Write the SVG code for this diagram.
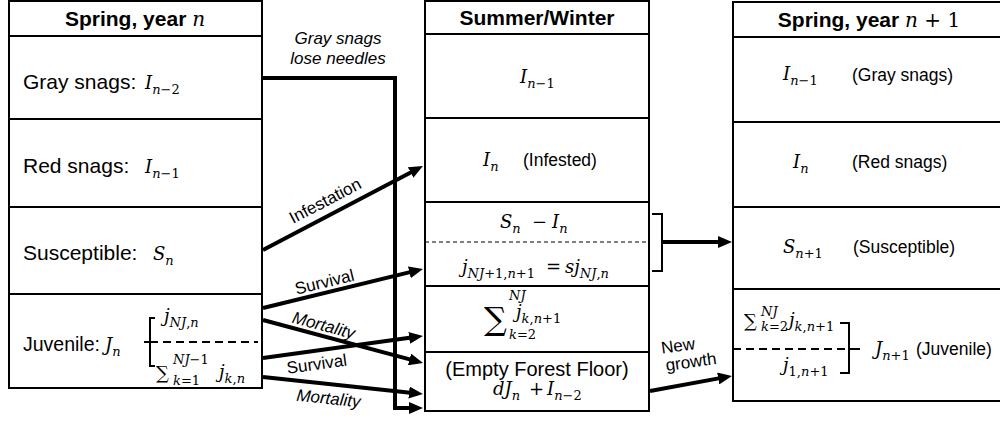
<svg xmlns="http://www.w3.org/2000/svg" width="1000" height="423" viewBox="0 0 1000 423">
<style>
.box{fill:#fff;stroke:#000;stroke-width:2}
.div{stroke:#000;stroke-width:2;fill:none}
.dash{stroke:#000;stroke-width:2;stroke-dasharray:8 5;fill:none}
.thin{stroke:#000;stroke-width:1;stroke-dasharray:4 3;fill:none}
.brk{stroke:#000;stroke-width:2;fill:none}
.arr{stroke:#000;stroke-width:4;fill:none;marker-end:url(#ah)}
.sans{font-family:"Liberation Sans",Arial,sans-serif;fill:#000}
.hd{font-size:21px;font-weight:bold}
.lab{font-size:21px}
.par{font-size:17.5px}
.cl{font-size:17px}
.it{font-style:italic}
.m{font-family:"DejaVu Serif","Liberation Serif",serif;font-size:18px;fill:#000;font-weight:normal}
.i{font-style:italic}
.s{font-size:13px}
</style>
<defs>
<marker id="ah" markerWidth="14" markerHeight="12" refX="6" refY="6" orient="auto" markerUnits="userSpaceOnUse"><path d="M0,0 L14,6 L0,12 z" fill="#000"/></marker>
</defs>

<g id="col-spring-n">
<rect class="box" x="9" y="1" width="253" height="387"/>
<path class="div" d="M9,36 H262 M9,119 H262 M9,207 H262 M9,294 H262"/>
<g id="hdr-spring-n"><text class="sans hd" x="135" y="26" text-anchor="middle">Spring, year <tspan class="m i" style="font-size:20px">n</tspan></text></g>
<g id="gray-snags-n"><text class="sans lab" x="23" y="89">Gray snags:<tspan class="m i" x="145">I</tspan><tspan class="m s i" y="94">n</tspan><tspan class="m s">−2</tspan></text></g>
<g id="red-snags-n"><text class="sans lab" x="23" y="173">Red snags:<tspan class="m i" x="145">I</tspan><tspan class="m s i" y="178">n</tspan><tspan class="m s">−1</tspan></text></g>
<g id="susceptible-n"><text class="sans lab" x="23" y="260">Susceptible:<tspan class="m i" x="153">S</tspan><tspan class="m s i" y="265">n</tspan></text></g>
<g id="juvenile-n">
<text class="sans" style="font-size:19.5px" x="23" y="351">Juvenile:<tspan class="m i" x="105">J</tspan><tspan class="m s i" y="356">n</tspan></text>
<path class="brk" d="M155,318 H150 V366 H155 M144,342 H150"/>
<path class="dash" d="M150,342 H258"/>
<text class="m" x="164" y="322"><tspan class="i">j</tspan><tspan class="s i" y="327">NJ</tspan><tspan class="s">,</tspan><tspan class="s i">n</tspan></text>
<text class="m" x="156" y="379">∑<tspan class="s i" x="173" y="364">NJ</tspan><tspan class="s">−1</tspan><tspan class="s i" x="173" y="385">k</tspan><tspan class="s">=1</tspan><tspan class="i" x="219" y="378">j</tspan><tspan class="s i" y="383">k</tspan><tspan class="s">,</tspan><tspan class="s i">n</tspan></text>
</g>
</g>

<g id="col-summer-winter">
<rect class="box" x="425" y="1" width="224" height="410"/>
<path class="div" d="M425,34 H649 M425,118 H649 M425,202 H649 M425,286 H649 M425,352 H649"/>
<path class="thin" d="M425,242 H649"/>
<g id="hdr-summer"><text class="sans hd" x="537" y="25" text-anchor="middle">Summer/Winter</text></g>
<g id="sw-gray"><text class="m" x="520" y="83"><tspan class="i">I</tspan><tspan class="s i" y="88">n</tspan><tspan class="s">−1</tspan></text></g>
<g id="sw-infested"><text class="m" x="483" y="166"><tspan class="i">I</tspan><tspan class="s i" y="171">n</tspan></text><text class="sans par" x="523" y="166">(Infested)</text></g>
<g id="sw-susceptible">
<text class="m" x="500" y="228"><tspan class="i">S</tspan><tspan class="s i" y="233">n</tspan><tspan x="532" y="228">−</tspan><tspan class="i" x="552">I</tspan><tspan class="s i" y="233">n</tspan></text>
<text class="m" x="462" y="273"><tspan class="i">j</tspan><tspan class="s i" y="278">NJ</tspan><tspan class="s">+1,</tspan><tspan class="s i">n</tspan><tspan class="s">+1</tspan><tspan x="546" y="273">=</tspan><tspan class="i" x="565">sj</tspan><tspan class="s i" y="278">NJ</tspan><tspan class="s">,</tspan><tspan class="s i">n</tspan></text>
</g>
<g id="sw-juvenile"><text class="m" x="484" y="330" style="font-size:32px">∑</text><text class="m" x="509" y="300"><tspan class="s i">NJ</tspan><tspan class="s i" x="509" y="339">k</tspan><tspan class="s">=2</tspan><tspan class="i" x="516" y="318">j</tspan><tspan class="s i" y="323">k</tspan><tspan class="s">,</tspan><tspan class="s i">n</tspan><tspan class="s">+1</tspan></text></g>
<g id="sw-empty"><text class="sans" style="font-size:20px" x="537" y="376" text-anchor="middle">(Empty Forest Floor)</text>
<text class="m" x="493" y="395"><tspan class="i">dJ</tspan><tspan class="s i" y="400">n</tspan><tspan x="529" y="395">+</tspan><tspan class="i" x="547">I</tspan><tspan class="s i" y="400">n</tspan><tspan class="s">−2</tspan></text></g>
</g>

<g id="col-spring-n1">
<rect class="box" x="733" y="2" width="269" height="399"/>
<path class="div" d="M733,37 H1002 M733,122 H1002 M733,207 H1002 M733,289 H1002"/>
<g id="hdr-spring-n1"><text class="sans hd" x="869" y="27" text-anchor="middle">Spring, year <tspan class="m i" style="font-size:20px">n</tspan><tspan class="m" style="font-size:20px"> + 1</tspan></text></g>
<g id="n1-gray"><text class="m" x="783" y="80"><tspan class="i">I</tspan><tspan class="s i" y="85">n</tspan><tspan class="s">−1</tspan></text><text class="sans par" x="852" y="81">(Gray snags)</text></g>
<g id="n1-red"><text class="m" x="793" y="168"><tspan class="i">I</tspan><tspan class="s i" y="173">n</tspan></text><text class="sans par" x="852" y="168">(Red snags)</text></g>
<g id="n1-susceptible"><text class="m" x="783" y="253"><tspan class="i">S</tspan><tspan class="s i" y="258">n</tspan><tspan class="s">+1</tspan></text><text class="sans par" x="853" y="253">(Susceptible)</text></g>
<g id="n1-juvenile">
<text class="m" x="744" y="327">∑<tspan class="s i" x="761" y="316">NJ</tspan><tspan class="s i" x="761" y="331">k</tspan><tspan class="s">=2</tspan><tspan class="i" x="789" y="326">j</tspan><tspan class="s i" y="331">k</tspan><tspan class="s">,</tspan><tspan class="s i">n</tspan><tspan class="s">+1</tspan></text>
<path class="dash" d="M733,349 H849"/>
<path class="brk" d="M840,323 H849 V373 H840 M849,349 H860"/>
<text class="m" x="783" y="371"><tspan class="i">j</tspan><tspan class="s" y="376">1,</tspan><tspan class="s i">n</tspan><tspan class="s">+1</tspan></text>
<text class="m" x="875" y="355"><tspan class="i">J</tspan><tspan class="s i" y="360">n</tspan><tspan class="s">+1</tspan></text>
<text class="sans par" x="916" y="355">(Juvenile)</text>
</g>
</g>

<g id="connectors">
<path class="arr" d="M262,78 H395 V408 H415"/>
<path class="arr" d="M263,250 L415.9,169.7"/>
<path class="arr" d="M263,308 L415.2,270.9"/>
<path class="arr" d="M263,320 L415.3,360.9"/>
<path class="arr" d="M263,358 L415.1,337.1"/>
<path class="arr" d="M263,377 L415,393.2"/>
<path class="brk" d="M652,214 H662 V271 H652"/>
<path class="arr" d="M662,242 H724"/>
<path class="arr" d="M650,391 L724.1,377.4"/>
<text class="sans cl it" x="338" y="44" text-anchor="middle">Gray snags</text>
<text class="sans cl it" x="338" y="64" text-anchor="middle">lose needles</text>
<text class="sans cl" text-anchor="middle" y="-9" transform="translate(332,213.8) rotate(-27.7)">Infestation</text>
<text class="sans cl" text-anchor="middle" y="-5" transform="translate(327,292.4) rotate(-13.7)">Survival</text>
<text class="sans cl it" text-anchor="middle" y="-5" transform="translate(321,335.6) rotate(15)">Mortality</text>
<text class="sans cl" text-anchor="middle" y="19" transform="translate(315,350.8) rotate(-7.8)">Survival</text>
<text class="sans cl it" text-anchor="middle" y="20" transform="translate(330,384.1) rotate(6)">Mortality</text>
<text class="sans cl" text-anchor="middle" dominant-baseline="central" transform="translate(678,346) rotate(-8)">New</text>
<text class="sans cl" text-anchor="middle" dominant-baseline="central" transform="translate(691,362) rotate(-8)">growth</text>
</g>
</svg>
